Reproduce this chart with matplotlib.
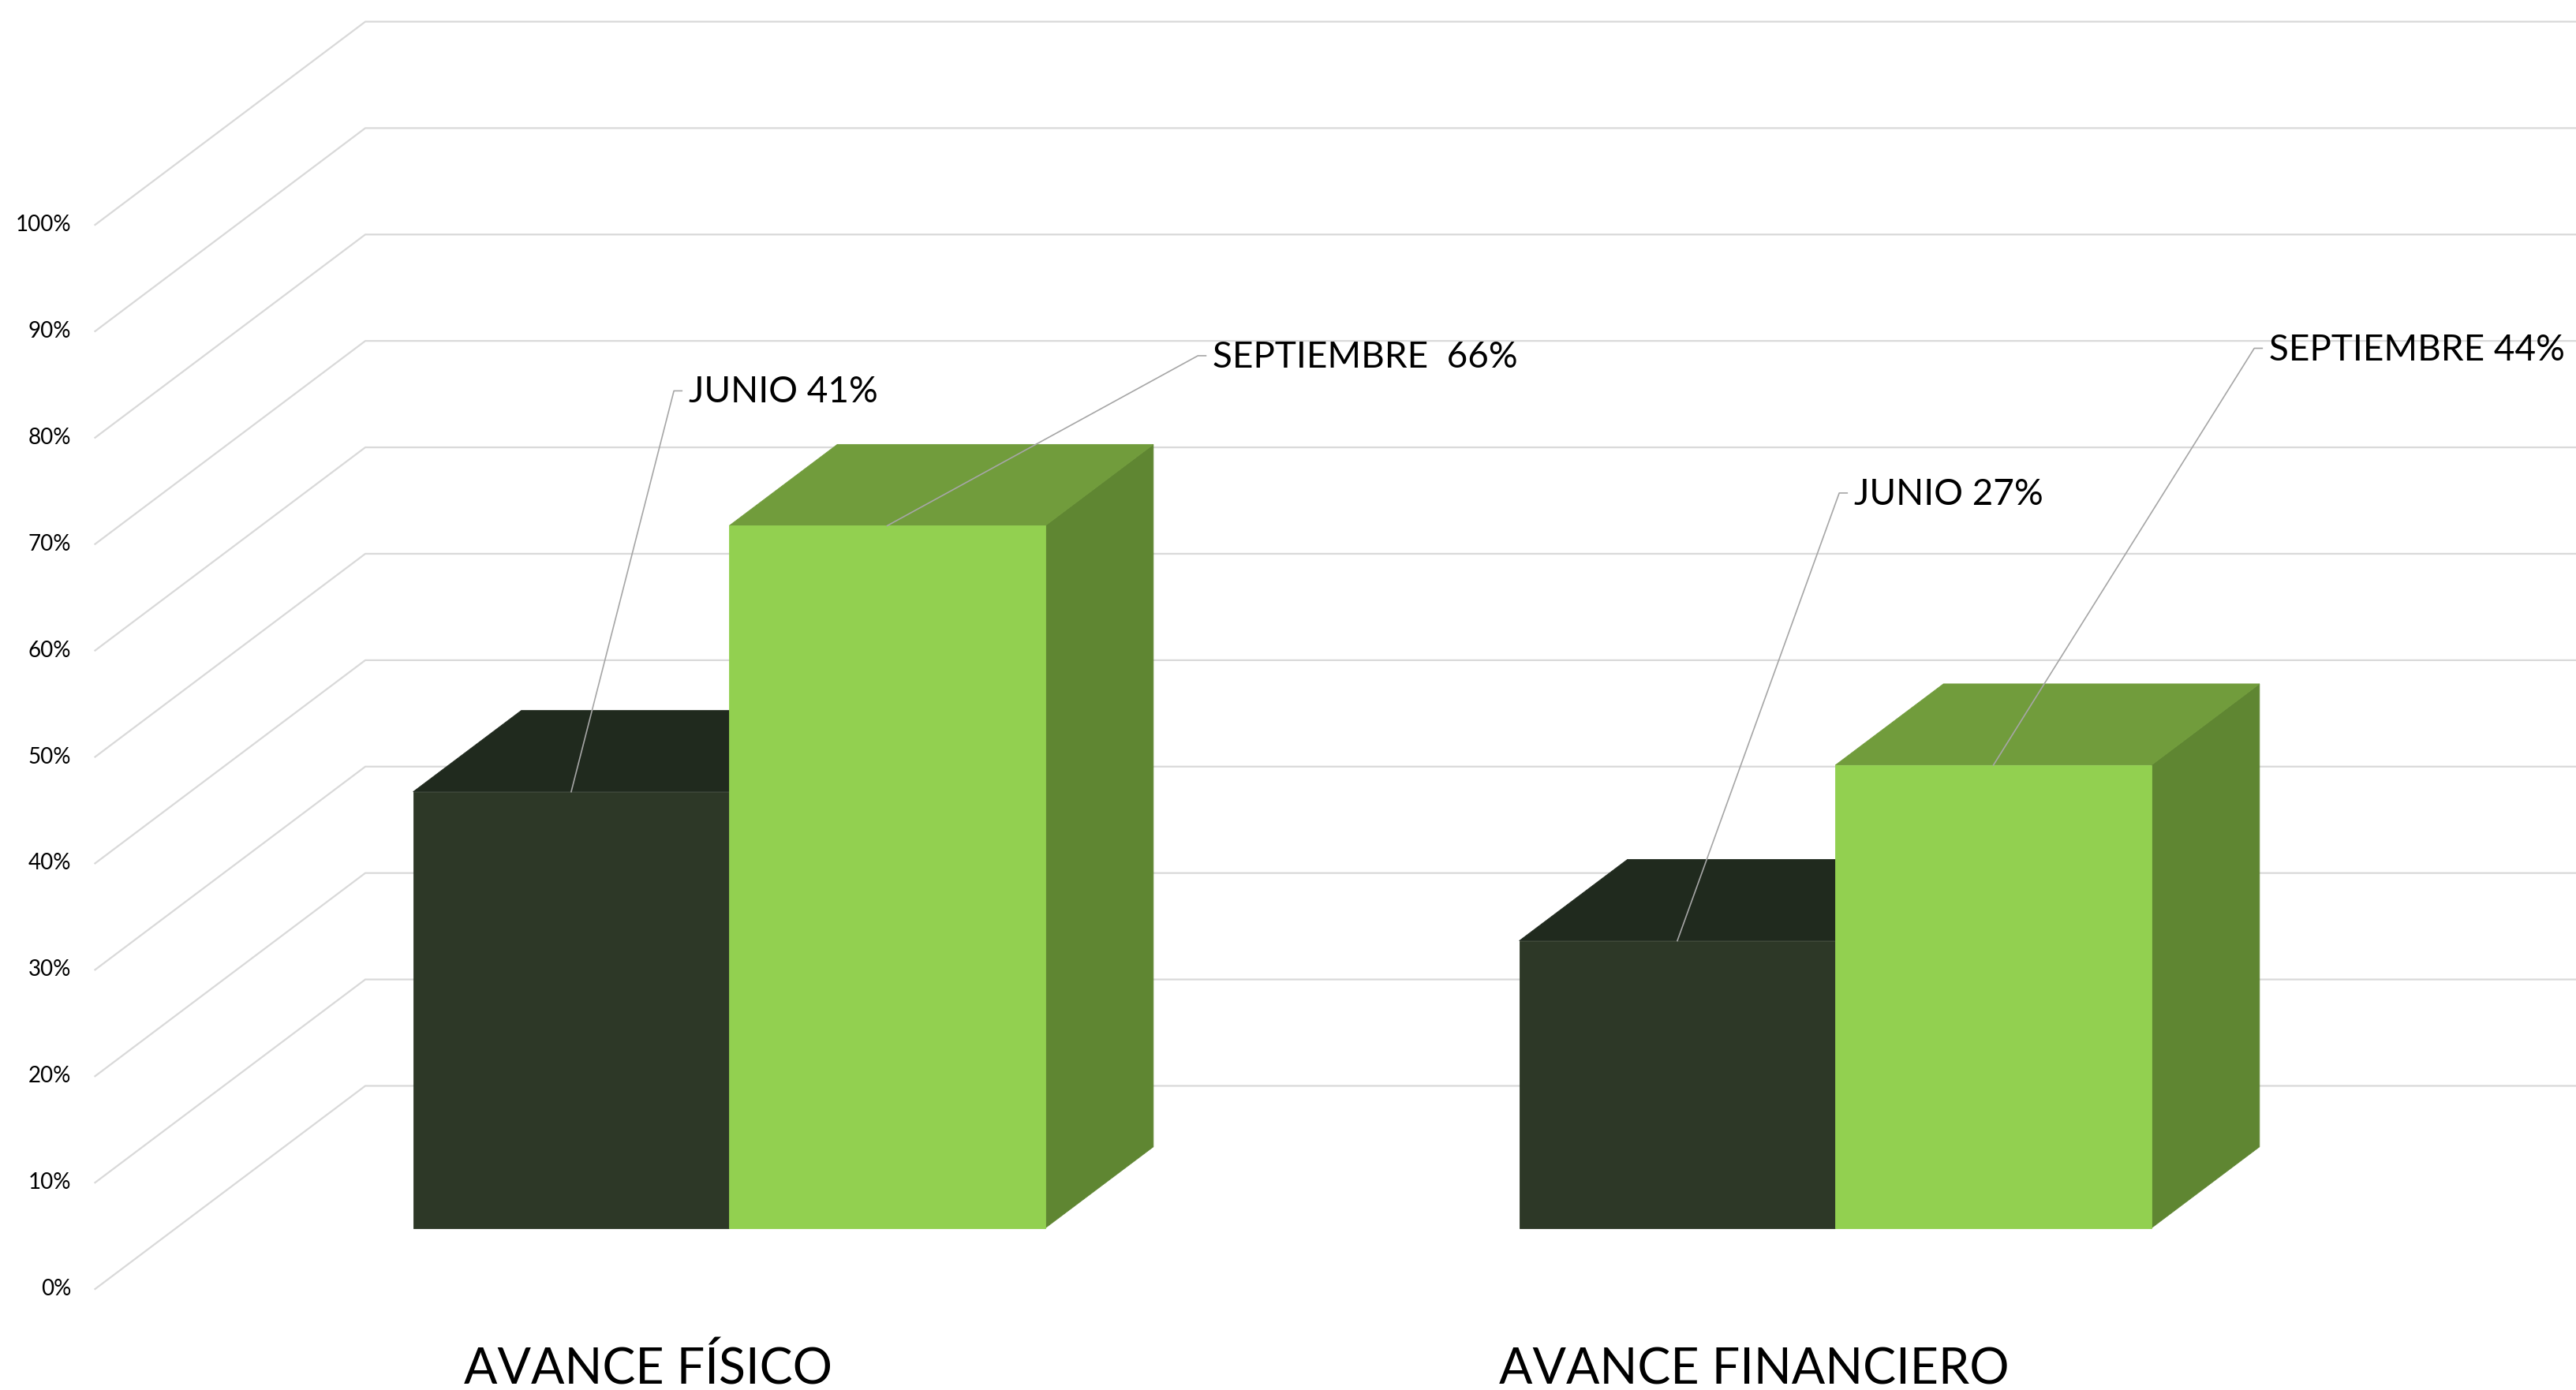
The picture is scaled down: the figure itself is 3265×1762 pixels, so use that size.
import matplotlib.pyplot as plt
from matplotlib.patches import Polygon

plt.rcParams['font.family'] = ['Lato', 'DejaVu Sans']

# data
categories = ['AVANCE FÍSICO', 'AVANCE FINANCIERO']
junio = [41, 27]
septiembre = [66, 43.5]
junio_labels = ['JUNIO 41%', 'JUNIO 27%']
septiembre_labels = ['SEPTIEMBRE  66%', 'SEPTIEMBRE 44%']
y_ticks = list(range(0, 101, 10))

# colours: front, top, side
junio_colors = ('#2D3827', '#202A1E', '#1A2218')
septiembre_colors = ('#92D050', '#719C3C', '#5F8632')

# where the data label leaders bend (category units, percent)
junio_label_pos = [(0.0233, 84.4), (1.0768, 74.8)]
septiembre_label_pos = [(0.4970, 87.7), (1.4520, 88.4)]

W, H, DPI = 3266, 1762, 200
fig = plt.figure(figsize=(W / DPI, H / DPI), dpi=DPI)
# axes = front plane of the 3D box
ax = fig.add_axes([120.5 / W, (H - 1634) / H, 2804 / W, 1349 / H])
ax.set_xlim(-0.5, 1.5)
ax.set_ylim(0, 100)
ax.axis('off')

DX, DY = 0.2443, 19.09   # front -> back wall offset in data units
D0, D1 = 0.3, 0.7        # depth range of the bars
BW = 1 / 3.5             # bar width (gap width 150%)


def proj(u, v, d):
    return u + d * DX, v + d * DY


# gridlines on the side and back walls
for v in y_ticks:
    pts = [proj(-0.5, v, 0), proj(-0.5, v, 1), proj(1.5, v, 1)]
    ax.plot([p[0] for p in pts], [p[1] for p in pts], color='#D9D9D9',
            lw=0.8, zorder=1, clip_on=False)
    ax.text(-0.5217, v, f'{v}%', ha='right', va='center', fontsize=10,
            color='black')


def draw_bar(x0, x1, v, colors, z):
    front, top, side = colors
    front_poly = [proj(x0, 0, D0), proj(x1, 0, D0), proj(x1, v, D0), proj(x0, v, D0)]
    top_poly = [proj(x0, v, D0), proj(x1, v, D0), proj(x1, v, D1), proj(x0, v, D1)]
    side_poly = [proj(x1, 0, D0), proj(x1, 0, D1), proj(x1, v, D1), proj(x1, v, D0)]
    for poly, c in ((side_poly, side), (top_poly, top), (front_poly, front)):
        ax.add_patch(Polygon(poly, closed=True, facecolor=c, edgecolor=c,
                             lw=0.3, zorder=z, clip_on=False))


def leader(x_mid, v, pos, text):
    ax_, ay_ = proj(x_mid, v, D0)
    ex, ey = pos
    ax.plot([ax_, ex, ex + 0.0072], [ay_, ey, ey], color='#A6A6A6', lw=0.6,
            zorder=20, clip_on=False)
    ax.text(ex + 0.0135, ey - 0.15, text, ha='left', va='center',
            fontsize=16.5, color='black', zorder=21)


z = 2
for i, cat in enumerate(categories):
    draw_bar(i - BW, i, junio[i], junio_colors, z)
    draw_bar(i, i + BW, septiembre[i], septiembre_colors, z + 1)
    z += 2
    leader(i - BW / 2, junio[i], junio_label_pos[i], junio_labels[i])
    leader(i + BW / 2, septiembre[i], septiembre_label_pos[i], septiembre_labels[i])
    ax.text(i, -8.9, cat, ha='center', va='baseline', fontsize=22.6,
            color='black')

fig.savefig('out.png', dpi=DPI)
